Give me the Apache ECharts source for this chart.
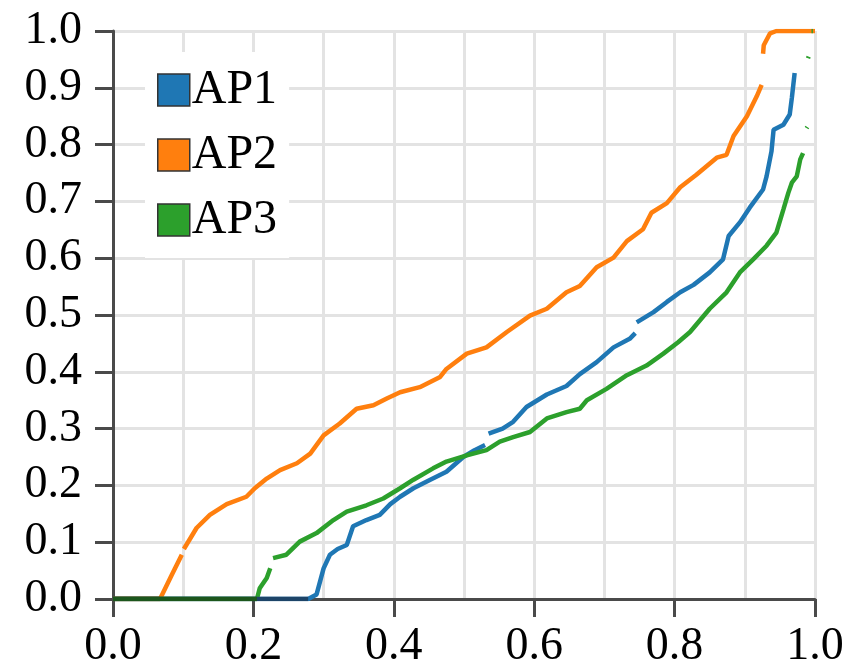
<!DOCTYPE html>
<html>
<head>
<meta charset="utf-8">
<script src="https://cdn.jsdelivr.net/npm/echarts@6.0.0/dist/echarts.min.js"></script>
<style>
html,body{margin:0;padding:0;background:#fff;}
#chart{width:848px;height:670px;}
</style>
</head>
<body>
<div id="chart"></div>
<script>
// Series names
const seriesNames = ['AP1', 'AP2', 'AP3'];
// Axis ticks
const xTicks = [0.0, 0.2, 0.4, 0.6, 0.8, 1.0];
const yTicks = [0.0, 0.1, 0.2, 0.3, 0.4, 0.5, 0.6, 0.7, 0.8, 0.9, 1.0];

// [x, y] points; null marks a visible gap
const AP1 = [
  [0,0],[0.278,0],[0.290,0.008],[0.295,0.031],[0.300,0.054],[0.309,0.078],[0.320,0.088],[0.333,0.095],
  [0.342,0.128],[0.361,0.139],[0.380,0.148],[0.395,0.167],[0.409,0.180],[0.428,0.195],[0.452,0.210],
  [0.475,0.224],[0.499,0.250],[0.515,0.262],[0.530,0.271], null,
  [0.535,0.291],[0.555,0.300],[0.570,0.312],[0.589,0.338],[0.618,0.360],[0.646,0.375],[0.665,0.396],
  [0.689,0.417],[0.713,0.443],[0.736,0.458],[0.744,0.468], null,
  [0.746,0.487],[0.770,0.505],[0.789,0.523],[0.808,0.540],[0.827,0.553],[0.850,0.575],[0.869,0.598],
  [0.877,0.639],[0.893,0.663],[0.907,0.689],[0.926,0.721],[0.931,0.744],[0.938,0.788],[0.941,0.826],
  [0.955,0.835],[0.964,0.853],[0.967,0.882],[0.971,0.926]
];
const AP2 = [
  [0,0],[0.067,0],[0.084,0.043],[0.098,0.078], null,
  [0.101,0.088],[0.119,0.125],[0.138,0.148],[0.162,0.167],[0.190,0.180],[0.202,0.195],[0.219,0.212],
  [0.238,0.227],[0.262,0.239],[0.281,0.256],[0.300,0.288],[0.323,0.309],[0.347,0.335],[0.371,0.341],
  [0.390,0.353],[0.409,0.364],[0.437,0.373],[0.466,0.391],[0.475,0.405],[0.504,0.432],[0.532,0.443],
  [0.561,0.470],[0.594,0.499],[0.618,0.511],[0.646,0.540],[0.665,0.551],[0.689,0.584],[0.713,0.601],
  [0.732,0.630],[0.755,0.651],[0.767,0.680],[0.789,0.697],[0.808,0.725],[0.831,0.747],[0.860,0.777],
  [0.874,0.782],[0.884,0.815],[0.903,0.850],[0.917,0.885],[0.924,0.905], null,
  [0.926,0.960],[0.927,0.975],[0.936,0.996],[0.945,1.0],[1.0,1.0]
];
const AP3 = [
  [0,0],[0.205,0],[0.209,0.019],[0.219,0.037],[0.224,0.054], null,
  [0.228,0.072],[0.247,0.078],[0.266,0.101],[0.290,0.116],[0.314,0.139],[0.333,0.154],[0.361,0.165],
  [0.385,0.177],[0.409,0.195],[0.428,0.210],[0.456,0.230],[0.475,0.242],[0.504,0.253],[0.532,0.262],
  [0.551,0.277],[0.570,0.285],[0.594,0.294],[0.618,0.318],[0.646,0.329],[0.665,0.335],[0.675,0.350],
  [0.703,0.370],[0.732,0.394],[0.760,0.411],[0.784,0.432],[0.805,0.452],[0.822,0.470],[0.850,0.511],
  [0.874,0.540],[0.893,0.575],[0.912,0.598],[0.931,0.622],[0.945,0.645],[0.955,0.686],[0.962,0.715],
  [0.967,0.733],[0.974,0.744],[0.979,0.774],[0.983,0.785], null,
  [0.988,0.829],[0.989,0.831], null,
  [0.990,0.952],[0.991,0.955], null,
  [0.995,1.0],[0.997,1.0]
];

const seriesData = [AP1, AP2, AP3];
const colors = ['#1f77b4', '#ff7f0e', '#2ca02c'];
const baseColors = ['#1d4468', '#6a3a10', '#1c561c'];
const FONT = 'Liberation Serif';

function toSeriesData(arr) {
  return arr.map(p => p === null ? ['-', '-'] : p);
}

const series = [];
seriesData.forEach((d, i) => {
  series.push({
    name: seriesNames[i],
    type: 'line',
    data: toSeriesData(d),
    showSymbol: false,
    symbol: 'none',
    connectNulls: false,
    lineStyle: { color: colors[i], width: 4.5 },
    itemStyle: { color: colors[i], borderColor: '#333', borderWidth: 1.5 },
    animation: false,
    silent: true
  });
});
// darker baseline where the points sit on the x axis
seriesData.forEach((d, i) => {
  series.push({
    name: seriesNames[i] + '_base',
    type: 'line',
    data: d.filter(p => p !== null && p[1] === 0),
    showSymbol: false,
    symbol: 'none',
    lineStyle: { color: baseColors[i], width: 4.5 },
    animation: false,
    silent: true
  });
});

const chart = echarts.init(document.getElementById('chart'), null, { renderer: 'canvas' });
chart.setOption({
  animation: false,
  backgroundColor: '#fff',
  textStyle: { fontFamily: FONT },
  grid: { left: 113, right: 33, top: 31, bottom: 69, containLabel: false },
  legend: {
    data: seriesNames,
    orient: 'vertical',
    left: 145,
    top: 52,
    padding: [14, 12, 14, 12],
    backgroundColor: '#fff',
    icon: 'rect',
    itemWidth: 32,
    itemHeight: 32,
    itemGap: 17,
    selectedMode: false,
    itemStyle: { borderColor: '#333', borderWidth: 1.5 },
    textStyle: { fontFamily: FONT, fontSize: 48, color: '#000', lineHeight: 46, padding: [0, 0, 0, -3] }
  },
  xAxis: {
    type: 'value',
    min: xTicks[0],
    max: xTicks[xTicks.length - 1],
    interval: 0.2,
    axisLine: { show: true, onZero: false, lineStyle: { color: '#4a4a4a', width: 3 } },
    axisTick: { show: true, inside: false, length: 18, lineStyle: { color: '#4a4a4a', width: 3 } },
    axisLabel: { fontFamily: FONT, fontSize: 46, color: '#000', margin: 25,
      formatter: v => v.toFixed(1) },
    splitLine: { show: true, lineStyle: { color: '#e3e3e3', width: 3 } },
    minorTick: { show: false, splitNumber: 2 },
    minorSplitLine: { show: true, lineStyle: { color: '#e3e3e3', width: 3 } }
  },
  yAxis: {
    type: 'value',
    min: yTicks[0],
    max: yTicks[yTicks.length - 1],
    interval: 0.1,
    axisLine: { show: true, onZero: false, lineStyle: { color: '#4a4a4a', width: 3 } },
    axisTick: { show: true, inside: false, length: 18, lineStyle: { color: '#4a4a4a', width: 3 } },
    axisLabel: { fontFamily: FONT, fontSize: 46, color: '#000', margin: 31,
      formatter: v => v.toFixed(1) },
    splitLine: { show: true, lineStyle: { color: '#e3e3e3', width: 3 } }
  },
  series: series
});
</script>
</body>
</html>
